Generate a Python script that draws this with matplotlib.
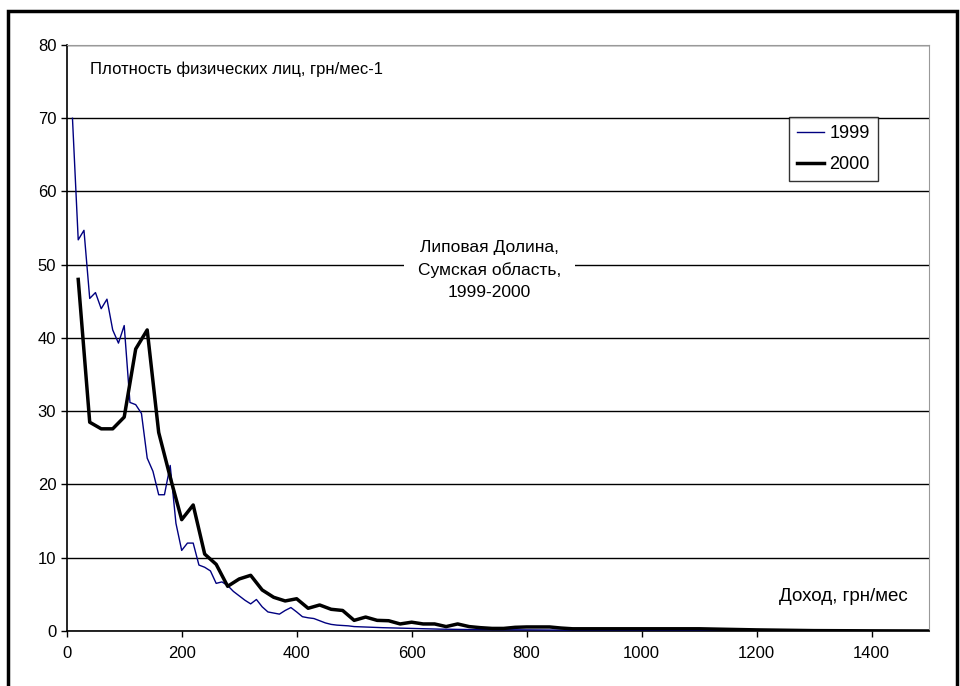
import matplotlib.pyplot as plt
from matplotlib.patches import Rectangle

plt.rcParams['font.family'] = ['Liberation Sans', 'DejaVu Sans']

# 1999: step 10 up to 500, then coarser tail
x_1999 = [10, 20, 30, 40, 50, 60, 70, 80, 90, 100,
          110, 120, 130, 140, 150, 160, 170, 180, 190, 200,
          210, 220, 230, 240, 250, 260, 270, 280, 290, 300,
          310, 320, 330, 340, 350, 360, 370, 380, 390, 400,
          410, 420, 430, 440, 450, 460, 470, 480, 490, 500,
          550, 600, 650, 700, 800, 900, 1000, 1100, 1200, 1300, 1400, 1500]
y_1999 = [70, 53.4, 54.7, 45.4, 46.2, 44, 45.3, 41.1, 39.3, 41.7,
          31.2, 30.9, 29.7, 23.6, 21.8, 18.6, 18.6, 22.6, 14.7, 11,
          12, 12, 9, 8.7, 8.2, 6.5, 6.7, 6.2, 5.4, 4.8,
          4.2, 3.7, 4.3, 3.3, 2.6, 2.45, 2.3, 2.8, 3.2, 2.6,
          1.95, 1.8, 1.7, 1.4, 1.1, 0.9, 0.8, 0.75, 0.7, 0.6,
          0.45, 0.35, 0.25, 0.2, 0.15, 0.1, 0.08, 0.06, 0.04, 0.03, 0.02, 0.01]

# 2000: step 20
x_2000 = [20, 40, 60, 80, 100, 120, 140, 160, 180, 200,
          220, 240, 260, 280, 300, 320, 340, 360, 380, 400,
          420, 440, 460, 480, 500, 520, 540, 560, 580, 600,
          620, 640, 660, 680, 700, 720, 740, 760, 780, 800,
          820, 840, 860, 880, 900, 1000, 1100, 1200, 1300, 1400, 1500]
y_2000 = [48, 28.5, 27.6, 27.6, 29.2, 38.5, 41.1, 27.1, 21, 15.2,
          17.2, 10.5, 9.1, 6.1, 7.1, 7.6, 5.6, 4.6, 4.1, 4.4,
          3.1, 3.55, 2.96, 2.8, 1.45, 1.9, 1.45, 1.4, 0.96, 1.2,
          0.96, 0.96, 0.6, 0.96, 0.6, 0.45, 0.35, 0.35, 0.5, 0.55,
          0.55, 0.55, 0.4, 0.3, 0.3, 0.3, 0.3, 0.15, 0.05, 0.02, 0.0]

fig = plt.figure(figsize=(9.6, 6.86), dpi=100)
ax = fig.add_axes([0.0695, 0.0802, 0.8982, 0.8542])

ax.plot(x_1999, y_1999, color='#000080', lw=1.0, label='1999', zorder=3)
ax.plot(x_2000, y_2000, color='black', lw=2.5, label='2000', zorder=4)

ax.set_xlim(0, 1500)
ax.set_ylim(0, 80)
ax.set_xticks(range(0, 1501, 200))
ax.set_yticks(range(0, 81, 10))
ax.yaxis.grid(True, color='black', lw=1.0)
ax.set_axisbelow(True)
ax.tick_params(direction='out', length=4, width=1, labelsize=12, colors='black')
ax.tick_params(axis='x', pad=7)
for s in ['top', 'right']:
    ax.spines[s].set_color('#999999')
for s in ['left', 'bottom']:
    ax.spines[s].set_linewidth(1.2)

leg = ax.legend(loc='upper right', bbox_to_anchor=(0.947, 0.886), fontsize=13,
                frameon=True, fancybox=False, edgecolor='black', borderpad=0.45,
                handlelength=1.5, handletextpad=0.3, labelspacing=0.75,
                borderaxespad=0.3)
leg.get_frame().set_linewidth(1.0)

ax.text(0.027, 0.958, 'Плотность физических лиц, грн/мес-1', transform=ax.transAxes,
        fontsize=12, ha='left', va='center')
ax.text(0.975, 0.058, 'Доход, грн/мес', transform=ax.transAxes,
        fontsize=13.5, ha='right', va='center')
ax.text(0.49, 0.616, 'Липовая Долина,\nСумская область,\n1999-2000',
        transform=ax.transAxes, fontsize=12.5, ha='center', va='center',
        linespacing=1.6, zorder=5,
        bbox=dict(facecolor='white', edgecolor='none', pad=10))

fig.patches.append(Rectangle((8 / 960, -0.01), 949 / 960, 1 - 11 / 686 + 0.01,
                             transform=fig.transFigure, fill=False,
                             edgecolor='black', lw=2.5))

fig.savefig('out.png', dpi=100)
